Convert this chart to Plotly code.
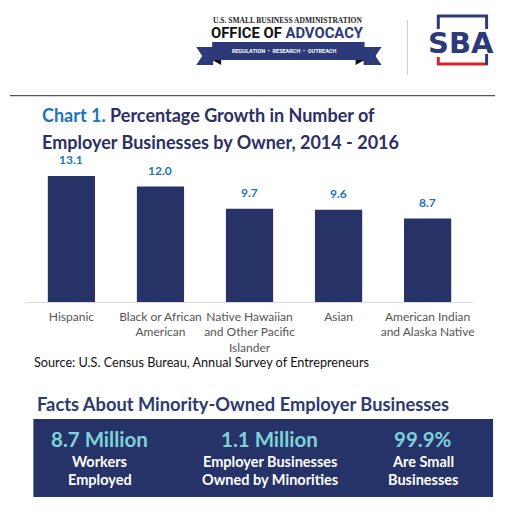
import plotly.graph_objects as go

W, H = 512, 513

categories = ["Hispanic", "Black or African<br>American", "Native Hawaiian<br>and Other Pacific<br>Islander",
              "Asian", "American Indian<br>and Alaska Native"]
growth = [13.1, 12.0, 9.7, 9.6, 8.7]
value_labels = ["13.1", "12.0", "9.7", "9.6", "8.7"]

fact_values = ["8.7 Million", "1.1 Million", "99.9%"]
fact_line1 = ["Workers", "Employer Businesses", "Are Small"]
fact_line2 = ["Employed", "Owned by Minorities", "Businesses"]

NAVY = "#273266"
BLUE = "#1e72b8"
TITLE_NAVY = "#2b2f63"
FONT = "Lato, 'Source Sans Pro', 'Open Sans', sans-serif"


def px(x):
    return x / W


def py(y):
    return 1 - y / H


fig = go.Figure()
fig.add_trace(go.Bar(
    x=categories, y=growth, marker=dict(color=NAVY, line=dict(width=0)),
    hoverinfo="skip", showlegend=False,
))

annotations = []
for c, v, t in zip(categories, growth, value_labels):
    annotations.append(dict(x=c, y=v, xref="x", yref="y", text=t, showarrow=False,
                            yanchor="middle", yshift=16,
                            font=dict(family=FONT, size=12, color=BLUE, weight="bold")))


def txt(x, y, text, size, color, bold=True, xanchor="left", family=FONT):
    annotations.append(dict(x=px(x), y=py(y), xref="paper", yref="paper", text=text,
                            showarrow=False, xanchor=xanchor, yanchor="middle",
                            font=dict(family=family, size=size, color=color,
                                      weight="bold" if bold else "normal")))


# title
txt(40, 115, "<span style='color:#1b75bb'>Chart 1.</span> Percentage Growth in Number of", 18, TITLE_NAVY)
txt(40, 141.5, "Employer Businesses by Owner, 2014 - 2016", 18, TITLE_NAVY)

# source
txt(32, 362, "Source: U.S. Census Bureau, Annual Survey of Entrepreneurs", 12.7, "#111111", bold=False)

# facts
txt(35, 404, "Facts About Minority-Owned Employer Businesses", 18.3, "#2c3a6e")
fact_x = [100, 271, 425]
for fx, v, l1, l2 in zip(fact_x, fact_values, fact_line1, fact_line2):
    txt(fx, 438.5, v, 20.5, "#7fd2d8", xanchor="center")
    txt(fx, 461, l1, 14.5, "white", xanchor="center")
    txt(fx, 479, l2, 14.5, "white", xanchor="center")

# logo texts
txt(289, 20.5, "U.S. SMALL BUSINESS ADMINISTRATION", 7.5, "#222222", xanchor="center",
    family="'Liberation Serif', 'DejaVu Serif', serif")
txt(289, 33.5, "OFFICE OF <span style='color:#2c3a7a'>ADVOCACY</span>", 14.8, "#111111", xanchor="center",
    family="Roboto, 'Liberation Sans', sans-serif")
txt(285, 51, "REGULATION  •  RESEARCH  •  OUTREACH", 5.5, "white", xanchor="center",
    family="Roboto, 'Liberation Sans', sans-serif")
txt(463, 43, "SBA", 29, "#2c3a7a", xanchor="center", family="'DejaVu Sans', sans-serif")

shapes = []


def line(x0, y0, x1, y1, color, width):
    shapes.append(dict(type="line", xref="paper", yref="paper", x0=px(x0), y0=py(y0),
                       x1=px(x1), y1=py(y1), line=dict(color=color, width=width), layer="above"))


def poly(pts, color):
    path = "M " + " L ".join(f"{px(x):.5f},{py(y):.5f}" for x, y in pts) + " Z"
    shapes.append(dict(type="path", xref="paper", yref="paper", path=path,
                       fillcolor=color, line=dict(width=0), layer="below"))


# top rule
line(10, 95.7, 497, 95.7, "#555555", 1.3)
# baseline
line(25, 302.5, 475, 302.5, "#dddddd", 1.2)
# facts box
shapes.append(dict(type="rect", xref="paper", yref="paper", x0=px(33.5), x1=px(495),
                   y0=py(497), y1=py(419), fillcolor="#263368", line=dict(width=0), layer="below"))

# ribbon
poly([(197, 47), (214, 47), (214, 65), (197, 65), (203, 56)], "#2c3a7a")
poly([(365, 47), (383, 47), (377, 56), (383, 65), (365, 65)], "#2c3a7a")
poly([(213, 42), (366, 42), (366, 60), (213, 60)], "#2c3a7a")
poly([(213, 60), (222, 60), (222, 65)], "#111111")
poly([(357, 60), (366, 60), (357, 65)], "#111111")
# divider
line(409, 20, 409, 75, "#cccccc", 1)
# SBA bracket
line(439, 16, 489.5, 16, "#2c3a7a", 3)
line(440, 15, 440, 29, "#2c3a7a", 3)
line(488.5, 15, 488.5, 29, "#2c3a7a", 3)
line(439, 64, 489.5, 64, "#d6262e", 3)
line(440, 57, 440, 65, "#d6262e", 3)
line(488.5, 54, 488.5, 65, "#2c3a7a", 3)

y_top_px = 140
base_px = 302.5
px_per_unit = 9.66
ymax = (base_px - y_top_px) / px_per_unit

fig.update_layout(
    width=W, height=H, margin=dict(l=0, r=0, t=0, b=0),
    paper_bgcolor="white", plot_bgcolor="white",
    bargap=0.47,
    xaxis=dict(domain=[px(27), px(474)], showgrid=False, showline=False, zeroline=False,
               ticks="", ticklabelstandoff=5,
               tickfont=dict(family=FONT, size=12, color="#555555"), fixedrange=True),
    yaxis=dict(domain=[py(base_px), py(y_top_px)], range=[0, ymax], visible=False, fixedrange=True),
    annotations=annotations, shapes=shapes, showlegend=False,
)

fig.write_html("out.html", config={"displayModeBar": False, "staticPlot": True},
               post_script="document.body.style.margin='0';document.body.style.overflow='hidden';")
